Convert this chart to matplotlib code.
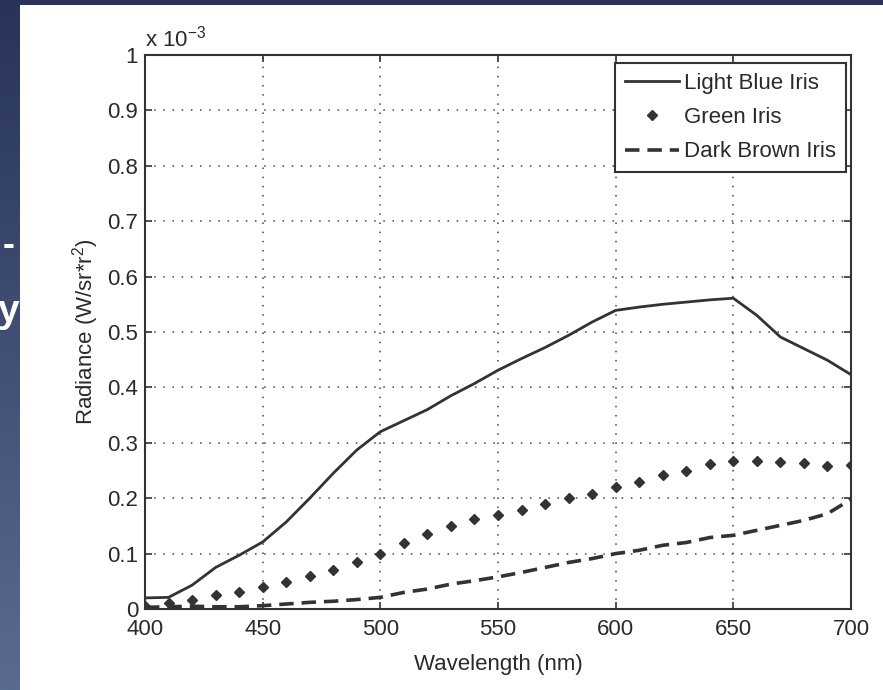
import numpy as np
import matplotlib
matplotlib.use("Agg")
import matplotlib.pyplot as plt
from matplotlib.patches import Rectangle
from matplotlib.ticker import FuncFormatter

# Data (radiance in units of 1e-3 W/sr*r^2)
wavelength = [400, 410, 420, 430, 440, 450, 460, 470, 480, 490, 500,
              510, 520, 530, 540, 550, 560, 570, 580, 590, 600,
              610, 620, 630, 640, 650, 660, 670, 680, 690, 700]
light_blue = [0.020, 0.021, 0.043, 0.075, 0.097, 0.121, 0.157, 0.200, 0.245, 0.287, 0.320,
              0.340, 0.360, 0.385, 0.407, 0.431, 0.452, 0.472, 0.494, 0.518, 0.539,
              0.545, 0.550, 0.554, 0.558, 0.561, 0.530, 0.491, 0.470, 0.449, 0.423]
green = [0.005, 0.010, 0.017, 0.025, 0.030, 0.040, 0.049, 0.060, 0.070, 0.085, 0.100,
         0.120, 0.135, 0.150, 0.162, 0.170, 0.179, 0.190, 0.200, 0.208, 0.220,
         0.229, 0.241, 0.250, 0.262, 0.268, 0.268, 0.265, 0.263, 0.258, 0.260]
dark_brown = [0.003, 0.004, 0.005, 0.004, 0.004, 0.006, 0.009, 0.012, 0.014, 0.017, 0.021,
              0.030, 0.036, 0.045, 0.051, 0.058, 0.066, 0.075, 0.084, 0.091, 0.100,
              0.106, 0.115, 0.120, 0.129, 0.133, 0.142, 0.151, 0.160, 0.172, 0.198]
series_labels = ["Light Blue Iris", "Green Iris", "Dark Brown Iris"]
x_ticks = [400, 450, 500, 550, 600, 650, 700]
y_ticks = [0, 0.1, 0.2, 0.3, 0.4, 0.5, 0.6, 0.7, 0.8, 0.9, 1.0]

plt.rcParams["font.family"] = ["Liberation Sans", "DejaVu Sans"]
plt.rcParams["mathtext.fontset"] = "custom"
plt.rcParams["mathtext.rm"] = "Liberation Sans"
plt.rcParams["mathtext.it"] = "Liberation Sans"

TXT = "#2a2a2a"
INK = "#333333"
W, H = 883, 690

fig = plt.figure(figsize=(W / 100, H / 100), dpi=100)

# slide background: blue gradient with white panel
bg = fig.add_axes([0, 0, 1, 1], zorder=-1)
bg.set_xlim(0, W)
bg.set_ylim(H, 0)
bg.axis("off")
grad = np.linspace(0, 1, 256).reshape(-1, 1)
cmap = matplotlib.colors.LinearSegmentedColormap.from_list("slide", ["#28345a", "#5a6a90"])
bg.imshow(grad, cmap=cmap, extent=[0, W, H, 0], aspect="auto")
bg.text(15, 245, "-", color="white", fontsize=26, fontweight="bold", ha="right", va="center")
bg.text(19, 312, "y", color="white", fontsize=28, fontweight="bold", ha="right", va="center")
bg.add_patch(Rectangle((20, 5), W - 20, H - 5, facecolor="white", edgecolor="none"))

ax = fig.add_axes([145 / W, (H - 609) / H, (851 - 145) / W, (609 - 55) / H], zorder=1)

ax.plot(wavelength, light_blue, "-", color=INK, lw=2.0, label=series_labels[0])
ax.plot(wavelength, green, "D", color=INK, ms=5, mec=INK, label=series_labels[1])
ax.plot(wavelength, dark_brown, "--", color=INK, lw=2.6, dashes=(4, 2.2), label=series_labels[2])

ax.set_xlim(400, 700)
ax.set_ylim(0, 1)
ax.set_xticks(x_ticks)
ax.set_yticks(y_ticks)
ax.yaxis.set_major_formatter(FuncFormatter(lambda v, p: "%g" % v))
ax.tick_params(direction="in", length=5, width=1.2, colors=INK, labelcolor=TXT,
               labelsize=16, top=True, right=True, pad=5)
ax.tick_params(axis="x", pad=7)
for s in ax.spines.values():
    s.set_color(INK)
    s.set_linewidth(1.5)

ax.grid(True, color="#444444", linestyle=(0, (1, 5)), linewidth=1.1)

ax.set_xlabel("Wavelength (nm)", fontsize=16, color=TXT, labelpad=10)
ax.set_ylabel("Radiance (W/sr*r$^2$)", fontsize=16, color=TXT, labelpad=4)
ax.text(0, 1.006, "x 10$^{-3}$", transform=ax.transAxes, fontsize=16, color=TXT,
        ha="left", va="bottom")

leg = ax.legend(loc="upper right", bbox_to_anchor=(0.993, 0.986), borderaxespad=0,
                fontsize=16, fancybox=False, framealpha=1, edgecolor=INK,
                numpoints=1, handlelength=2.4, handletextpad=0.25,
                labelspacing=0.6, borderpad=0.45)
leg.get_frame().set_linewidth(1.5)
for t in leg.get_texts():
    t.set_color(TXT)

fig.savefig("out.png", dpi=100)
